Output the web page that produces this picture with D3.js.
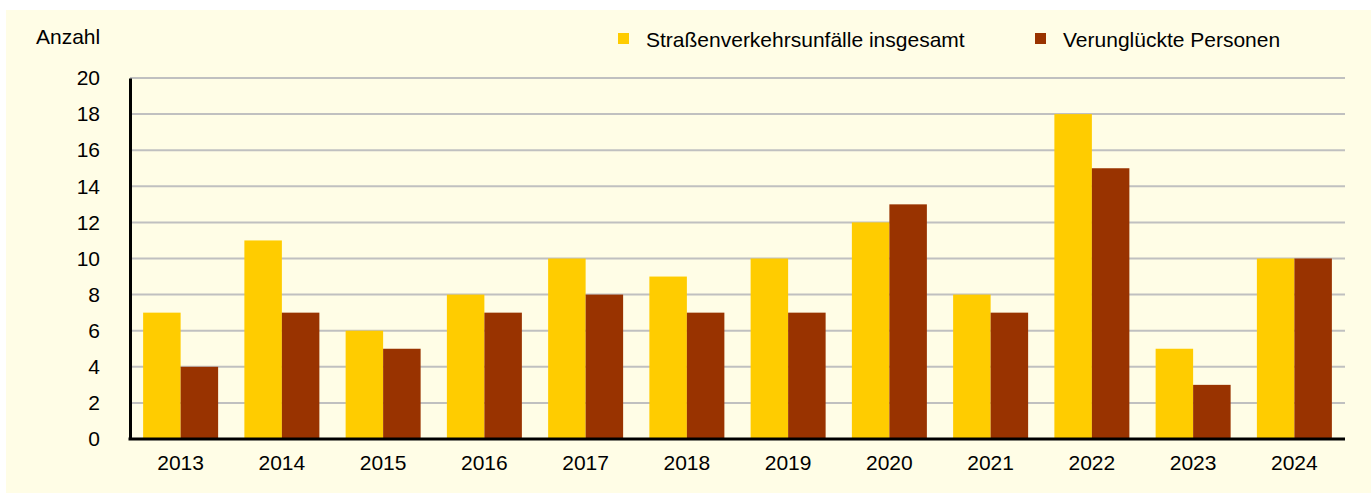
<!DOCTYPE html>
<html>
<head>
<meta charset="utf-8">
<script src="https://cdn.jsdelivr.net/npm/d3@7"></script>
<style>
  body { margin: 0; background: #fff; }
  svg { display: block; font-family: "Liberation Sans", Arial, sans-serif; }
</style>
</head>
<body>
<div id="chart"></div>
<script>
// data
var years = ["2013", "2014", "2015", "2016", "2017", "2018", "2019", "2020", "2021", "2022", "2023", "2024"];
var unfaelle = [7, 11, 6, 8, 10, 9, 10, 12, 8, 18, 5, 10];
var verunglueckte = [4, 7, 5, 7, 8, 7, 7, 13, 7, 15, 3, 10];
var seriesNames = ["Straßenverkehrsunfälle insgesamt", "Verunglückte Personen"];
var seriesColors = ["#ffcc00", "#993300"];
var yTicks = [0, 2, 4, 6, 8, 10, 12, 14, 16, 18, 20];

var width = 1371, height = 493;
var margin = {left: 130, right: 26, top: 78, bottom: 54};

var svg = d3.select("#chart").append("svg")
    .attr("width", width)
    .attr("height", height);

// cream panel
svg.append("rect")
    .attr("x", 6).attr("y", 10)
    .attr("width", width - 6).attr("height", height - 10)
    .attr("fill", "#fffde6");

var x0 = d3.scaleBand()
    .domain(years)
    .range([margin.left, width - margin.right])
    .padding(0);

var x1 = d3.scaleBand()
    .domain([0, 1])
    .range([0, x0.bandwidth()])
    .paddingInner(0)
    .paddingOuter(0.35);

var y = d3.scaleLinear()
    .domain([0, 20])
    .range([height - margin.bottom, margin.top]);

// gridlines
svg.append("g")
    .selectAll("line")
    .data(yTicks.filter(function(d) { return d > 0; }))
    .enter().append("line")
    .attr("x1", margin.left)
    .attr("x2", width - margin.right)
    .attr("y1", function(d) { return y(d); })
    .attr("y2", function(d) { return y(d); })
    .attr("stroke", "#c0c0c0")
    .attr("stroke-width", 2);

// bars
var rows = years.map(function(yr, i) {
    return {year: yr, values: [unfaelle[i], verunglueckte[i]]};
});

var group = svg.append("g").selectAll("g")
    .data(rows)
    .enter().append("g")
    .attr("transform", function(d) { return "translate(" + x0(d.year) + ",0)"; });

group.selectAll("rect")
    .data(function(d) { return d.values; })
    .enter().append("rect")
    .attr("x", function(d, i) { return x1(i); })
    .attr("width", x1.bandwidth())
    .attr("y", function(d) { return y(d); })
    .attr("height", function(d) { return y(0) - y(d); })
    .attr("fill", function(d, i) { return seriesColors[i]; });

// y axis
var yAxis = svg.append("g")
    .attr("transform", "translate(" + margin.left + ",0)")
    .call(d3.axisLeft(y).tickValues(yTicks).tickSize(0).tickPadding(30));
yAxis.select(".domain").attr("stroke", "#000").attr("stroke-width", 3);
yAxis.selectAll("text")
    .attr("font-size", 21)
    .attr("font-family", "Liberation Sans, Arial, sans-serif")
    .attr("fill", "#000");

// x axis
var xAxis = svg.append("g")
    .attr("transform", "translate(0," + y(0) + ")")
    .call(d3.axisBottom(x0).tickSize(0).tickPadding(16));
xAxis.select(".domain").attr("stroke", "#000").attr("stroke-width", 3)
    .attr("d", "M" + (margin.left - 1.5) + ",0H" + (width - margin.right));
xAxis.selectAll("text")
    .attr("font-size", 21)
    .attr("font-family", "Liberation Sans, Arial, sans-serif")
    .attr("fill", "#000");

// axis title
svg.append("text")
    .attr("x", 36).attr("y", 44)
    .attr("font-size", 21)
    .attr("fill", "#000")
    .text("Anzahl");

// legend
var legendX = [618, 1035];
var legend = svg.append("g").selectAll("g")
    .data(seriesNames)
    .enter().append("g")
    .attr("transform", function(d, i) { return "translate(" + legendX[i] + ",0)"; });

legend.append("rect")
    .attr("x", 0).attr("y", 33)
    .attr("width", 11).attr("height", 11)
    .attr("fill", function(d, i) { return seriesColors[i]; });

legend.append("text")
    .attr("x", 28).attr("y", 47)
    .attr("font-size", 21)
    .attr("fill", "#000")
    .text(function(d) { return d; });
</script>
</body>
</html>
